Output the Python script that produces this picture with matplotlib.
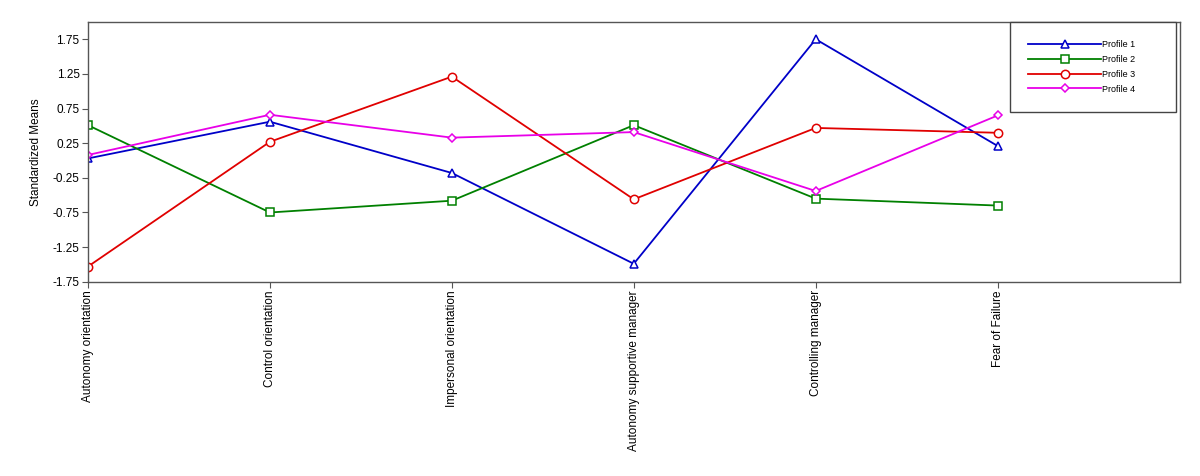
import matplotlib
matplotlib.use("Agg")
import matplotlib.pyplot as plt
from matplotlib.ticker import FixedLocator

plt.rcParams["font.family"] = ["Liberation Sans", "DejaVu Sans"]

categories = ["Autonomy orientation", "Control orientation", "Impersonal orientation",
              "Autonomy supportive manager", "Controlling manager", "Fear of Failure"]
profile1 = [0.03, 0.56, -0.18, -1.49, 1.75, 0.21]
profile2 = [0.51, -0.75, -0.58, 0.51, -0.55, -0.65]
profile3 = [-1.53, 0.27, 1.21, -0.56, 0.47, 0.40]
profile4 = [0.08, 0.66, 0.33, 0.41, -0.44, 0.65]
names = ["Profile 1", "Profile 2", "Profile 3", "Profile 4"]
y_ticks = [1.75, 1.25, 0.75, 0.25, -0.25, -0.75, -1.25, -1.75]

fig = plt.figure(figsize=(12, 4.76), dpi=100)
ax = fig.add_axes([0.0733, 0.408, 0.9097, 0.546])

series = [profile1, profile2, profile3, profile4]
colors = ["#0000C8", "#008000", "#E00000", "#E800E8"]
markers = ["^", "s", "o", "D"]
msizes = [5.5, 6, 6, 4.5]
x = list(range(len(categories)))
for vals, c, m, ms, n in zip(series, colors, markers, msizes, names):
    ax.plot(x, vals, color=c, marker=m, markersize=ms, markerfacecolor="white",
            markeredgecolor=c, markeredgewidth=1.1, linewidth=1.3, label=n)

ax.set_xlim(0, 6)
ax.set_ylim(-1.75, 2.0)
ax.xaxis.set_major_locator(FixedLocator(x))
ax.set_xticklabels(categories, rotation=90, fontsize=8.5)
ax.set_yticks(y_ticks)
ax.set_yticklabels([f"{t:.2f}" for t in y_ticks], fontsize=8.5)
ax.tick_params(direction="out", length=4, width=0.8, color="#555555", pad=2)
ax.set_ylabel("Standardized Means", fontsize=8.5, labelpad=8)
for s in ax.spines.values():
    s.set_color("#555555")
    s.set_linewidth(1.0)

# legend box spans the upper right corner, content sits to the left
leg = ax.legend(loc="upper left", bbox_to_anchor=(0.845, 0.0, 0.152, 1.0),
                mode="expand", borderaxespad=0, fontsize=6.5, handlelength=8,
                frameon=True, fancybox=False, borderpad=2.0, labelspacing=0.65,
                handletextpad=0.1)
leg.get_frame().set_edgecolor("#444444")
leg.get_frame().set_linewidth(1.0)
leg.get_frame().set_alpha(1)

fig.savefig("out.png", dpi=100)
